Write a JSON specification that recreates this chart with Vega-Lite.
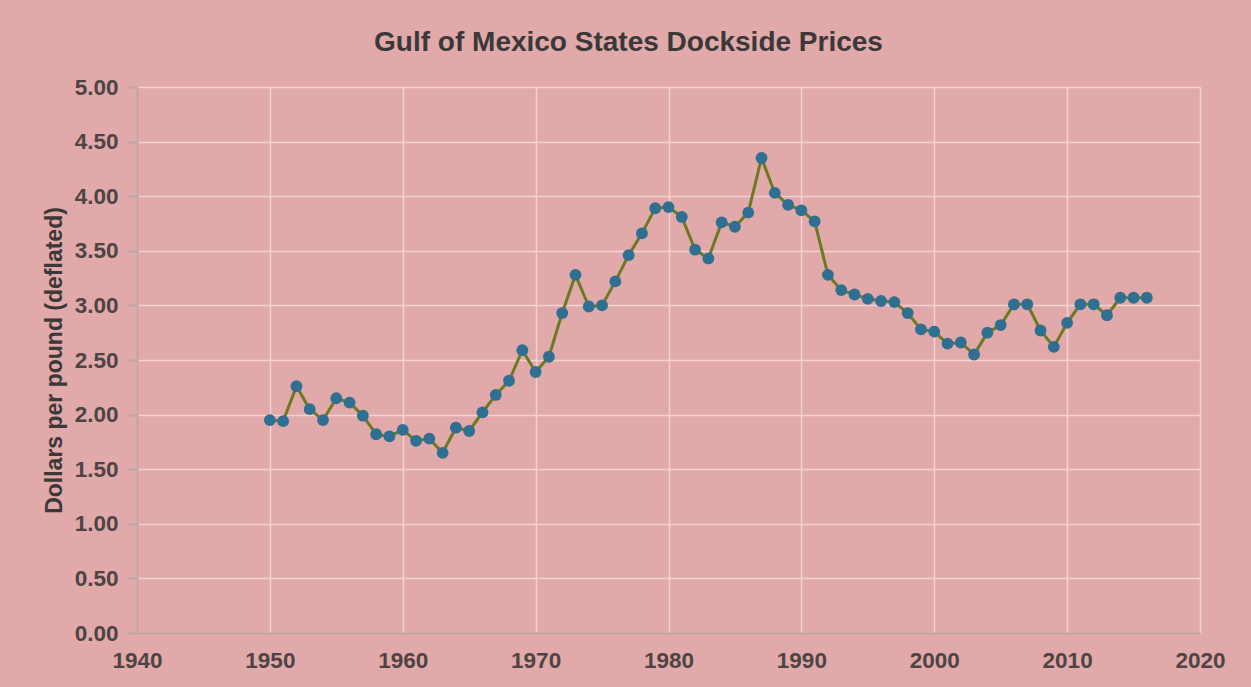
{
  "$schema": "https://vega.github.io/schema/vega-lite/v6.json",
  "width": 1063,
  "height": 546,
  "autosize": "none",
  "padding": {"left": 137, "top": 87, "right": 51, "bottom": 54},
  "background": "#e1a9a9",
  "config": {
    "view": {"stroke": null},
    "font": "Liberation Sans",
    "axis": {
      "gridColor": "#f1d3d3",
      "gridWidth": 1.5,
      "domainColor": "#bfa3a3",
      "domainWidth": 2,
      "tickColor": "#bfa3a3",
      "tickWidth": 2,
      "labelFont": "Liberation Sans",
      "labelFontWeight": "bold",
      "labelColor": "#4d4444",
      "labelFontSize": 22.5
    }
  },
  "title": {
    "text": "Gulf of Mexico States Dockside Prices",
    "fontSize": 28,
    "fontWeight": "bold",
    "color": "#3b3838",
    "font": "Liberation Sans",
    "anchor": "middle",
    "dx": -40,
    "offset": 19
  },
  "data": {
    "values": [
      {"year": 1950, "price": 1.95}, {"year": 1951, "price": 1.94}, {"year": 1952, "price": 2.26},
      {"year": 1953, "price": 2.05}, {"year": 1954, "price": 1.95}, {"year": 1955, "price": 2.15},
      {"year": 1956, "price": 2.11}, {"year": 1957, "price": 1.99}, {"year": 1958, "price": 1.82},
      {"year": 1959, "price": 1.80}, {"year": 1960, "price": 1.86}, {"year": 1961, "price": 1.76},
      {"year": 1962, "price": 1.78}, {"year": 1963, "price": 1.65}, {"year": 1964, "price": 1.88},
      {"year": 1965, "price": 1.85}, {"year": 1966, "price": 2.02}, {"year": 1967, "price": 2.18},
      {"year": 1968, "price": 2.31}, {"year": 1969, "price": 2.59}, {"year": 1970, "price": 2.39},
      {"year": 1971, "price": 2.53}, {"year": 1972, "price": 2.93}, {"year": 1973, "price": 3.28},
      {"year": 1974, "price": 2.99}, {"year": 1975, "price": 3.00}, {"year": 1976, "price": 3.22},
      {"year": 1977, "price": 3.46}, {"year": 1978, "price": 3.66}, {"year": 1979, "price": 3.89},
      {"year": 1980, "price": 3.90}, {"year": 1981, "price": 3.81}, {"year": 1982, "price": 3.51},
      {"year": 1983, "price": 3.43}, {"year": 1984, "price": 3.76}, {"year": 1985, "price": 3.72},
      {"year": 1986, "price": 3.85}, {"year": 1987, "price": 4.35}, {"year": 1988, "price": 4.03},
      {"year": 1989, "price": 3.92}, {"year": 1990, "price": 3.87}, {"year": 1991, "price": 3.77},
      {"year": 1992, "price": 3.28}, {"year": 1993, "price": 3.14}, {"year": 1994, "price": 3.10},
      {"year": 1995, "price": 3.06}, {"year": 1996, "price": 3.04}, {"year": 1997, "price": 3.03},
      {"year": 1998, "price": 2.93}, {"year": 1999, "price": 2.78}, {"year": 2000, "price": 2.76},
      {"year": 2001, "price": 2.65}, {"year": 2002, "price": 2.66}, {"year": 2003, "price": 2.55},
      {"year": 2004, "price": 2.75}, {"year": 2005, "price": 2.82}, {"year": 2006, "price": 3.01},
      {"year": 2007, "price": 3.01}, {"year": 2008, "price": 2.77}, {"year": 2009, "price": 2.62},
      {"year": 2010, "price": 2.84}, {"year": 2011, "price": 3.01}, {"year": 2012, "price": 3.01},
      {"year": 2013, "price": 2.91}, {"year": 2014, "price": 3.07}, {"year": 2015, "price": 3.07},
      {"year": 2016, "price": 3.07}
    ]
  },
  "encoding": {
    "x": {
      "field": "year",
      "type": "quantitative",
      "scale": {"domain": [1940, 2020], "nice": false, "zero": false},
      "axis": {
        "title": null,
        "values": [1940, 1950, 1960, 1970, 1980, 1990, 2000, 2010, 2020],
        "format": "d",
        "ticks": false,
        "labelFlush": false,
        "labelPadding": 16,
        "domain": true
      }
    },
    "y": {
      "field": "price",
      "type": "quantitative",
      "scale": {"domain": [0, 5], "nice": false},
      "axis": {
        "title": "Dollars per pound (deflated)",
        "titleFont": "Liberation Sans",
        "titleFontSize": 23,
        "titleFontWeight": "bold",
        "titleColor": "#3b3838",
        "titlePadding": 8,
        "values": [0, 0.5, 1, 1.5, 2, 2.5, 3, 3.5, 4, 4.5, 5],
        "format": ".2f",
        "labelFlush": false,
        "tickSize": 9,
        "labelPadding": 10
      }
    }
  },
  "layer": [
    {"mark": {"type": "line", "color": "#6b7a22", "strokeWidth": 3}},
    {"mark": {"type": "point", "filled": true, "color": "#2f6f92", "opacity": 1, "size": 140}}
  ]
}
